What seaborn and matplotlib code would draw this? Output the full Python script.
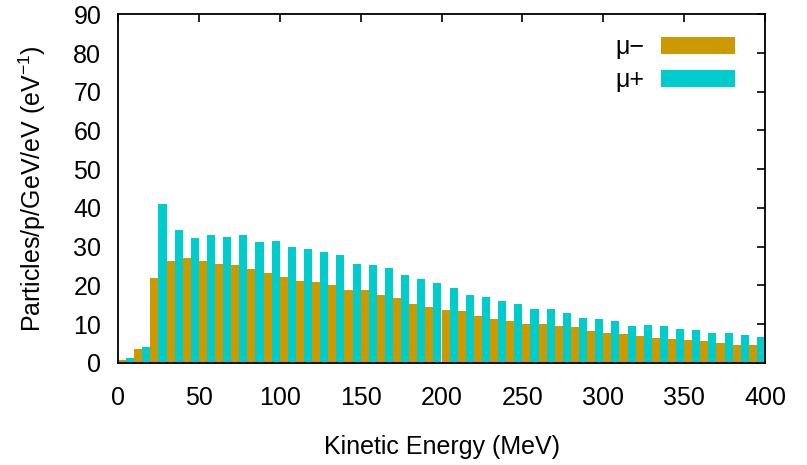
import numpy as np
import pandas as pd
import matplotlib
matplotlib.use("Agg")
import matplotlib.pyplot as plt
from matplotlib.patches import Patch
import seaborn as sns

# bin centres (MeV), 10 MeV bins from 0 to 400
energy = np.arange(5, 400, 10)

mu_minus = [0.7, 3.5, 21.9, 26.3, 27.1, 26.3, 25.5, 25.3, 24.2, 23.2,
            22.2, 21.1, 20.9, 20.1, 18.8, 18.8, 17.5, 16.7, 15.2, 14.4,
            13.6, 13.4, 12.1, 11.3, 10.8, 10.0, 9.9, 9.4, 9.1, 8.1,
            7.8, 7.3, 6.8, 6.3, 6.0, 5.8, 5.5, 5.0, 4.7, 4.7]
mu_plus = [1.2, 4.1, 41.0, 34.3, 32.2, 33.0, 32.5, 33.0, 31.2, 31.5,
           29.9, 29.4, 28.6, 27.8, 25.5, 25.3, 24.5, 22.7, 21.6, 20.6,
           19.3, 17.5, 17.0, 15.9, 15.2, 13.9, 13.8, 12.8, 11.5, 11.2,
           10.9, 9.4, 9.7, 9.4, 8.6, 8.4, 7.6, 7.6, 7.1, 6.6]
labels = ["\u03bc\u2212", "\u03bc+"]
colors = ["#cc9900", "#00cccc"]
x_ticks = list(range(0, 401, 50))
y_ticks = list(range(0, 91, 10))

df = pd.DataFrame({
    "energy": np.concatenate([energy, energy]),
    "value": np.concatenate([mu_minus, mu_plus]),
    "species": [labels[0]] * len(energy) + [labels[1]] * len(energy),
})

sns.set_theme(style="white")
plt.rcParams["font.family"] = ["Liberation Sans", "DejaVu Sans"]
plt.rcParams["mathtext.default"] = "regular"
plt.rcParams["text.color"] = "black"
plt.rcParams["axes.labelcolor"] = "black"

fig = plt.figure(figsize=(8.07, 4.65), dpi=100)
ax = fig.add_axes([118 / 807, 1 - 362.7 / 465, (765 - 118) / 807, (362.7 - 14.4) / 465])

sns.histplot(data=df, x="energy", weights="value", hue="species",
             hue_order=labels, palette=colors, binwidth=10, binrange=(0, 400),
             multiple="dodge", shrink=1.0, alpha=1.0, linewidth=0,
             edgecolor="none", legend=False, ax=ax)

ax.set_xlim(0, 400)
ax.set_ylim(0, 90)
ax.set_xticks(x_ticks)
ax.set_yticks(y_ticks)
fs = 18
ax.tick_params(direction="in", length=6, width=1.2, top=True, right=True,
               labelsize=fs, colors="black")
ax.tick_params(axis="x", pad=17)
ax.tick_params(axis="y", pad=12)
for s in ax.spines.values():
    s.set_color("black")
    s.set_linewidth(1.3)
ax.set_xlabel("Kinetic Energy (MeV)", fontsize=fs, labelpad=18)
ax.set_ylabel("Particles/p/GeV/eV (eV$^{\\mathregular{-1}}$)", fontsize=fs, labelpad=18)

handles = [Patch(facecolor=c, edgecolor="none", label=l) for c, l in zip(colors, labels)]
ax.legend(handles=handles, loc="upper right", bbox_to_anchor=(1.0, 1.027),
          frameon=False, markerfirst=False,
          fontsize=fs, handlelength=2.96, handleheight=0.68, labelspacing=0.37,
          handletextpad=0.65, borderaxespad=0.8)

fig.savefig("out.png", dpi=100)
